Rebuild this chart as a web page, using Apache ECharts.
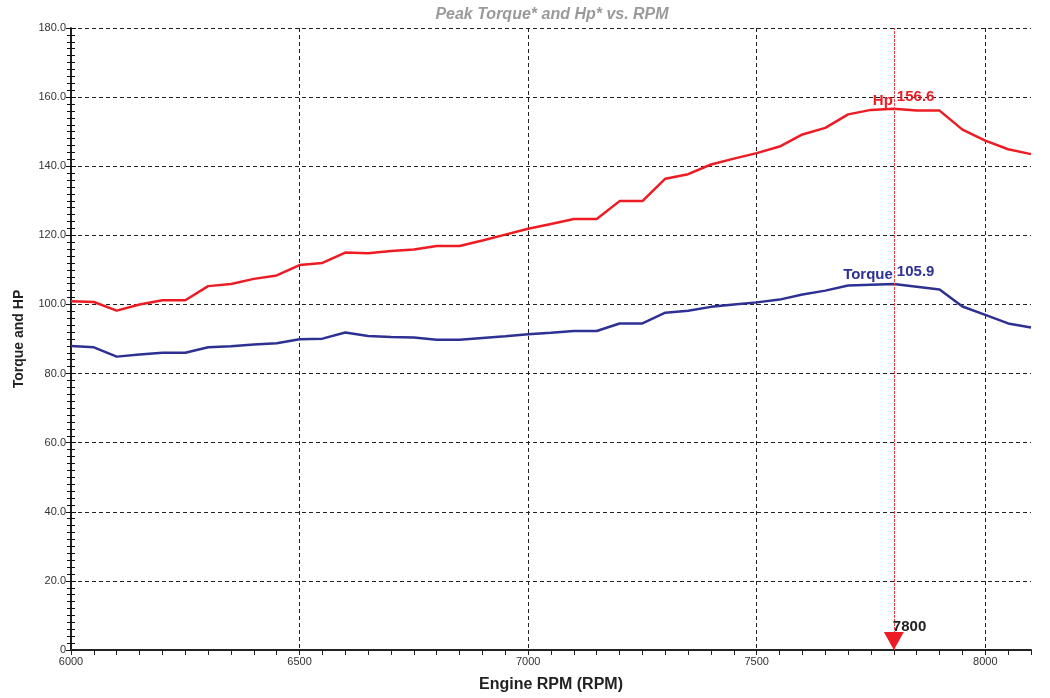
<!DOCTYPE html>
<html>
<head>
<meta charset="utf-8">
<script src="https://cdn.jsdelivr.net/npm/echarts@6/dist/echarts.min.js"></script>
<style>html,body{margin:0;padding:0;background:#fff}#c{width:1050px;height:698px}</style>
</head>
<body>
<div id="c"></div>
<script>
const rpm = [6000,6050,6100,6150,6200,6250,6300,6350,6400,6450,6500,6550,6600,6650,6700,6750,6800,6850,6900,6950,7000,7050,7100,7150,7200,7250,7300,7350,7400,7450,7500,7550,7600,7650,7700,7750,7800,7850,7900,7950,8000,8050,8100];
const hp = [100.9,100.7,98.2,100.0,101.2,101.2,105.3,105.9,107.4,108.4,111.4,112.0,115.0,114.8,115.5,115.9,116.9,116.9,118.5,120.2,121.9,123.3,124.7,124.7,129.9,129.9,136.4,137.7,140.5,142.2,143.8,145.7,149.2,151.1,155.0,156.3,156.6,156.1,156.1,150.6,147.4,144.9,143.5];
const torque = [88.0,87.6,84.9,85.5,86.0,86.0,87.6,87.9,88.4,88.8,89.9,90.1,91.9,90.9,90.6,90.4,89.8,89.8,90.3,90.8,91.4,91.8,92.3,92.3,94.5,94.5,97.6,98.2,99.3,100.0,100.6,101.4,102.9,104.0,105.5,105.7,105.9,105.1,104.3,99.4,97.0,94.5,93.3];
const peakRpm = 7800;
const peakHp = 156.6;
const peakTorque = 105.9;
const titleText = 'Peak Torque* and Hp* vs. RPM';
const xName = 'Engine RPM (RPM)';
const yName = 'Torque and HP';

const RED = '#ed1c24', BLUE = '#2e3192';
const FONT = "'Liberation Sans', Arial, sans-serif";
const hpData = rpm.map((r, i) => [r, hp[i]]);
const tqData = rpm.map((r, i) => [r, torque[i]]);

const chart = echarts.init(document.getElementById('c'), null, {renderer: 'canvas'});
const yCommon = {
  type: 'value', min: 0, max: 180, interval: 20, position: 'left',
  axisLine: {show: true, lineStyle: {color: '#111', width: 1.5}},
  minorTick: {show: true, splitNumber: 10, length: 4, lineStyle: {color: '#111'}},
  axisTick: {show: true, length: 5, lineStyle: {color: '#111'}}
};
chart.setOption({
  animation: false,
  title: {
    text: titleText, left: 547, top: 2, textAlign: 'center',
    textStyle: {fontFamily: FONT, fontSize: 16, fontWeight: 'bold', fontStyle: 'italic', color: '#9a9a9a'}
  },
  grid: {left: 71, right: 19, top: 28, bottom: 43, containLabel: false},
  xAxis: [{
    type: 'value', min: 6000, max: 8100, interval: 50,
    name: xName, nameLocation: 'middle', nameGap: 27,
    nameTextStyle: {fontFamily: FONT, fontSize: 16, fontWeight: 'bold', color: '#222'},
    axisLine: {show: true, onZero: false, lineStyle: {color: '#222', width: 2}},
    axisTick: {show: true, length: 5, lineStyle: {color: '#222'}},
    axisLabel: {fontFamily: FONT, fontSize: 11, color: '#333', margin: 6,
      formatter: v => (v % 500 === 0 && v <= 8000) ? String(v) : ''},
    splitLine: {show: false}
  }, {
    type: 'value', min: 6000, max: 8100, interval: 500, position: 'bottom',
    axisLine: {show: false}, axisTick: {show: false}, axisLabel: {show: false},
    splitLine: {show: true, showMinLine: false, showMaxLine: false, lineStyle: {color: '#222', type: [4, 3], width: 1}}
  }],
  yAxis: [Object.assign({}, yCommon, {
    name: yName, nameLocation: 'middle', nameGap: 45,
    nameTextStyle: {fontFamily: FONT, fontSize: 14, fontWeight: 'bold', color: '#222'},
    axisLabel: {fontFamily: FONT, fontSize: 11, color: '#333', margin: 5,
      formatter: v => v === 0 ? '0' : v.toFixed(1)},
    splitLine: {show: true, showMinLine: false, lineStyle: {color: '#222', type: [4, 3], width: 1}}
  }), Object.assign({}, yCommon, {
    axisTick: {show: true, inside: true, length: 5, lineStyle: {color: '#111'}},
    axisLabel: {show: false}, splitLine: {show: false}
  })],
  series: [{
    name: 'Hp', type: 'line', data: hpData, showSymbol: false, symbol: 'none',
    lineStyle: {color: RED, width: 2.5}, itemStyle: {color: RED}, z: 3,
    markLine: {
      silent: true, symbol: ['none', 'none'], label: {show: false},
      lineStyle: {color: '#f04048', width: 1, type: [3, 1]},
      data: [{xAxis: peakRpm}]
    },
    markPoint: {
      data: [
        {coord: [peakRpm, peakHp], symbolSize: 0,
          label: {show: true, formatter: 'Hp', position: [-1, -16], align: 'right', verticalAlign: 'top',
            fontFamily: FONT, fontSize: 15, fontWeight: 'bold', color: RED}},
        {coord: [peakRpm, peakHp], symbolSize: 0,
          label: {show: true, formatter: String(peakHp), position: [3, -20], align: 'left', verticalAlign: 'top',
            fontFamily: FONT, fontSize: 15, fontWeight: 'bold', color: RED}},
        {coord: [peakRpm, 0], symbol: 'triangle', symbolRotate: 180, symbolSize: [20, 18], symbolOffset: [0, -9],
          itemStyle: {color: RED}, label: {show: false}},
        {coord: [peakRpm, 0], symbolSize: 0,
          label: {show: true, formatter: String(peakRpm), position: [-1, -31], align: 'left', verticalAlign: 'top',
            fontFamily: FONT, fontSize: 15, fontWeight: 'bold', color: '#222'}}
      ]
    }
  }, {
    name: 'Torque', type: 'line', data: tqData, showSymbol: false, symbol: 'none',
    lineStyle: {color: BLUE, width: 2.5}, itemStyle: {color: BLUE}, z: 3,
    markPoint: {
      data: [
        {coord: [peakRpm, peakTorque], symbolSize: 0,
          label: {show: true, formatter: 'Torque', position: [-1, -17], align: 'right', verticalAlign: 'top',
            fontFamily: FONT, fontSize: 15, fontWeight: 'bold', color: BLUE}},
        {coord: [peakRpm, peakTorque], symbolSize: 0,
          label: {show: true, formatter: String(peakTorque), position: [3, -20], align: 'left', verticalAlign: 'top',
            fontFamily: FONT, fontSize: 15, fontWeight: 'bold', color: BLUE}}
      ]
    }
  }]
});
</script>
</body>
</html>
